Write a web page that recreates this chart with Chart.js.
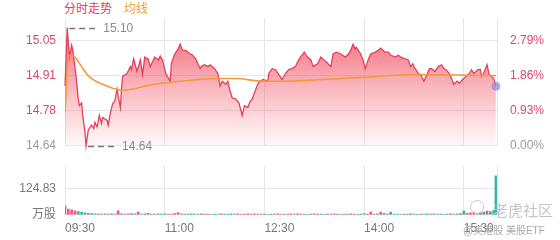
<!DOCTYPE html>
<html>
<head>
<meta charset="utf-8">
<script src="https://cdn.jsdelivr.net/npm/chart.js@4.4.0/dist/chart.umd.min.js"></script>
<style>
    body { margin: 0; background: #fff; width: 560px; height: 240px; overflow: hidden; position: relative;
           font-family: "Liberation Sans", "Noto Sans CJK SC", sans-serif; }
    canvas { position: absolute; left: 0; }
    #price { top: 0; }
    #vol { top: 149px; }
    .title { position: absolute; top: 2px; font-size: 12px; line-height: 14px; }
    .wm { position: absolute; color: #c4c4c4; white-space: nowrap; }
</style>
</head>
<body>
<div class="title" style="left:64px;color:#d9426a">分时走势</div>
<div class="title" style="left:124px;color:#f0a030">均线</div>
<canvas id="price" width="560" height="162"></canvas>
<canvas id="vol" width="560" height="91"></canvas>
<div class="wm" style="left:470px;top:200px;width:12px;height:12px;border:1.5px solid #c8c8c8;border-radius:50%"></div>
<div class="wm" style="left:493px;top:199px;font-size:15px">老虎社区</div>
<div class="wm" style="left:463px;top:222px;font-size:10px;color:#aaa">@美港股 美股ETF</div>
<script>
const FONT = '"Liberation Sans", "Noto Sans CJK SC", sans-serif';

// minutes since 09:30
const minutes = [0,2,4,6,7,10,12,13,15,16,18,19,21,24,26,27,29,31,33,34,38,39,41,43,45,47,48,50,51,52,56,59,60,62,65,68,70,72,75,
    77,81,84,86,88,91,95,96,99,102,104,106,109,113,115,118,122,123,126,129,131,135,138,140,142,145,147,149,151,154,
    157,160,162,165,167,169,171,174,176,179,183,184,187,190,193,196,199,202,205,208,211,214,216,219,222,224,228,231,233,
    236,240,242,245,249,253,256,258,260,262,263,267,269,271,274,276,280,283,285,289,292,294,298,301,303,307,310,312,314,
    315,319,321,324,326,329,331,334,337,340,342,344,347,349,351,354,356,359,362,365,367,369,373,375,376,378,381,383,385,387,389];
const prices = [14.872,15.10,14.985,15.031,15.012,14.910,14.822,14.796,14.807,14.758,14.693,14.64,14.701,14.720,14.707,14.731,14.713,14.758,14.727,14.750,14.739,14.720,14.769,14.803,14.815,14.860,14.834,14.788,14.860,14.910,14.921,14.948,14.936,14.978,14.929,14.974,14.917,14.985,14.978,
    14.948,14.985,14.974,14.989,14.974,14.921,14.891,14.959,14.997,15.016,15.035,15.012,15.011,14.997,14.993,14.978,14.940,14.948,14.955,14.948,14.955,14.940,14.921,14.872,14.891,14.879,14.891,14.853,14.826,14.822,
    14.807,14.758,14.796,14.789,14.811,14.822,14.845,14.879,14.891,14.898,14.891,14.921,14.940,14.936,14.917,14.898,14.921,14.936,14.940,14.948,14.974,14.993,15.004,14.985,14.974,14.948,14.959,14.985,14.978,
    14.966,14.948,14.997,15.004,14.997,14.985,14.997,15.012,15.035,15.017,15.023,14.997,14.974,14.940,14.978,14.997,15.004,15.012,15.020,15.004,15.004,14.993,14.985,14.992,14.985,14.978,14.974,14.948,14.959,
    14.948,14.921,14.917,14.891,14.910,14.940,14.940,14.929,14.948,14.955,14.940,14.936,14.921,14.902,14.879,14.891,14.883,14.898,14.910,14.921,14.936,14.921,14.936,14.937,14.910,14.922,14.955,14.917,14.910,14.902,14.872];

const avgMinutes = [0,3,6,11,15,20,25,34,43,52,65,75,104,135,154,178,199,233,269,313,389];
const avgPrices = [14.769,14.985,14.993,14.974,14.948,14.917,14.898,14.879,14.864,14.856,14.864,14.875,14.891,14.902,14.902,14.891,14.891,14.898,14.906,14.917,14.913];

// volume (万股), every 3 minutes; 1 = up bar, 0 = down bar
const volMinutes = [0,3,6,9,12,15,18,21,24,27,30,33,36,39,42,45,48,51,54,57,60,63,66,69,72,75,78,81,84,87,
    90,93,96,99,102,105,108,111,114,117,120,123,126,129,132,135,138,141,144,147,150,153,156,159,162,165,168,171,174,177,
    180,183,186,189,192,195,198,201,204,207,210,213,216,219,222,225,228,231,234,237,240,243,246,249,252,255,258,261,264,267,
    270,273,276,279,282,285,288,291,294,297,300,303,306,309,312,315,318,321,324,327,330,333,336,339,342,345,348,351,354,357,
    360,363,366,369,372,375,378,381,384,387,389];
const volumes = [43,28,24,20,16,14,10,8,7,6, 5,4,6,4,5,4,20,5,4,6, 7,5,14,4,5,8,4,4,5,4,
    5,4,4,7,11,5,4,4,5,4, 4,5,4,4,3,4,4,5,4,4, 5,4,6,3,4,5,4,5,4,4,
    4,3,4,4,5,3,4,4,5,4, 5,4,4,3,4,5,4,4,3,4, 4,5,4,3,4,4,5,4,3,4,
    7,4,14,4,5,14,8,4,14,4, 4,3,4,4,5,4,3,4,4,5, 4,5,4,4,3,4,5,4,6,7,
    18,8,10,11,8,12,14,18,16,21,185];
const volUp = [1,1,1,1,0,0,0,1,0,0, 1,0,1,1,0,1,1,0,1,1, 0,1,1,0,1,0,1,0,1,0,
    0,1,1,1,1,0,1,0,0,0, 0,1,0,1,0,0,0,1,0,0, 0,0,1,1,1,1,1,1,1,0,
    1,0,1,0,1,1,0,1,1,0, 1,1,0,0,1,0,1,0,1,0, 1,1,0,1,1,0,1,1,0,0,
    0,1,1,1,0,1,0,1,0,0, 0,1,0,0,1,0,0,1,0,0, 1,0,1,0,0,0,1,0,1,0,
    0,1,1,1,0,1,0,1,0,0,0];

const priceTicks = [14.64, 14.7767, 14.9133, 15.05];
const priceLabels = ["14.64", "14.78", "14.91", "15.05"];
const pctLabels = ["0.00%", "0.93%", "1.86%", "2.79%"];
const timeTicks = [0, 90, 180, 270, 360, 390];
const timeLabels = ["09:30", "11:00", "12:30", "14:00", "15:30", ""];
const volTicks = [0, 124.83];
const volLabels = ["万股", "124.83"];

const GRID = "#e6e6e6";
const UP = "#d8476c";

const extremaPlugin = {
    id: "extrema",
    afterDatasetsDraw(chart) {
        const {ctx, scales: {x, y}} = chart;
        const hi = Math.max(...prices), lo = Math.min(...prices);
        [hi, lo].forEach(v => {
            const px = x.getPixelForValue(minutes[prices.indexOf(v)]);
            const py = Math.round(y.getPixelForValue(v)) + 0.5;
            ctx.save();
            ctx.strokeStyle = "#777";
            ctx.lineWidth = 1.5;
            ctx.setLineDash([6, 4]);
            ctx.beginPath();
            ctx.moveTo(px + 2, py);
            ctx.lineTo(px + 31, py);
            ctx.stroke();
            ctx.fillStyle = "#888";
            ctx.font = "12px " + FONT;
            ctx.textBaseline = "middle";
            ctx.fillText(v.toFixed(2), px + 36, py);
            ctx.restore();
        });
    }
};

const lastIdx = prices.length - 1;

new Chart(document.getElementById("price"), {
    type: "line",
    data: {
        datasets: [
            {
                data: avgMinutes.map((m, i) => ({x: m, y: avgPrices[i]})),
                borderColor: "#f39a3a",
                borderWidth: 1.6,
                pointRadius: 0,
                cubicInterpolationMode: "monotone",
                fill: false,
                order: 0
            },
            {
                data: minutes.map((m, i) => ({x: m, y: prices[i]})),
                borderColor: "#e3405f",
                borderWidth: 1.3,
                tension: 0,
                pointRadius: c => c.dataIndex === lastIdx ? 4 : 0,
                pointBackgroundColor: "rgba(150,140,220,0.75)",
                pointBorderColor: "rgba(150,140,220,0.4)",
                clip: 6,
                fill: "start",
                backgroundColor: c => {
                    const area = c.chart.chartArea;
                    if (!area) return "rgba(240,80,100,0.5)";
                    const g = c.chart.ctx.createLinearGradient(0, area.top, 0, area.bottom);
                    g.addColorStop(0, "rgba(240,72,92,0.9)");
                    g.addColorStop(0.5, "rgba(242,80,98,0.45)");
                    g.addColorStop(1, "rgba(245,90,105,0.04)");
                    return g;
                },
                order: 1
            }
        ]
    },
    options: {
        responsive: false,
        animation: false,
        layout: {padding: {top: 18, bottom: 13}},
        plugins: {legend: {display: false}, tooltip: {enabled: false}},
        scales: {
            x: {
                type: "linear", min: 0, max: 390,
                afterBuildTicks: s => { s.ticks = timeTicks.map(v => ({value: v})); },
                afterFit: s => { s.height = 0; },
                ticks: {display: false},
                grid: {color: GRID, drawTicks: false},
                border: {display: false}
            },
            y: {
                position: "left", min: 14.64, max: 15.137,
                afterBuildTicks: s => { s.ticks = priceTicks.map(v => ({value: v})); },
                afterFit: s => { s.width = 65; },
                ticks: {
                    padding: 9,
                    font: {size: 12, family: FONT},
                    color: c => c.index === 0 ? "#999" : UP,
                    callback: (v, i) => priceLabels[i]
                },
                grid: {color: GRID, drawTicks: false},
                border: {display: false}
            },
            yr: {
                position: "right", min: 14.64, max: 15.137,
                afterBuildTicks: s => { s.ticks = priceTicks.map(v => ({value: v})); },
                afterFit: s => { s.width = 63; },
                ticks: {
                    padding: 5,
                    font: {size: 12, family: FONT},
                    color: c => c.index === 0 ? "#999" : UP,
                    callback: (v, i) => pctLabels[i]
                },
                grid: {display: false},
                border: {display: false}
            }
        }
    },
    plugins: [extremaPlugin]
});

new Chart(document.getElementById("vol"), {
    type: "bar",
    data: {
        datasets: [{
            data: volMinutes.map((m, i) => ({x: m, y: volumes[i]})),
            backgroundColor: volUp.map(u => u ? "#ef5d78" : "#34b5a6"),
            barThickness: 2
        }]
    },
    options: {
        responsive: false,
        animation: false,
        layout: {padding: {right: 63}},
        plugins: {legend: {display: false}, tooltip: {enabled: false}},
        scales: {
            x: {
                type: "linear", min: 0, max: 390, offset: false,
                afterBuildTicks: s => { s.ticks = timeTicks.map(v => ({value: v})); },
                afterFit: s => { s.height = 25; },
                ticks: {
                    align: "start", padding: 6, maxRotation: 0, autoSkip: false,
                    font: {size: 12, family: FONT}, color: "#777",
                    callback: (v, i) => timeLabels[i]
                },
                grid: {color: GRID, drawTicks: false, offset: false},
                border: {display: false}
            },
            y: {
                min: 0, max: 235.4,
                afterBuildTicks: s => { s.ticks = volTicks.map(v => ({value: v})); },
                afterFit: s => { s.width = 65; },
                ticks: {
                    padding: 9,
                    font: {size: 12, family: FONT}, color: "#777",
                    callback: (v, i) => volLabels[i]
                },
                grid: {color: c => c.index === 0 ? "rgba(0,0,0,0)" : GRID, drawTicks: false},
                border: {display: false}
            }
        }
    }
});
</script>
</body>
</html>
